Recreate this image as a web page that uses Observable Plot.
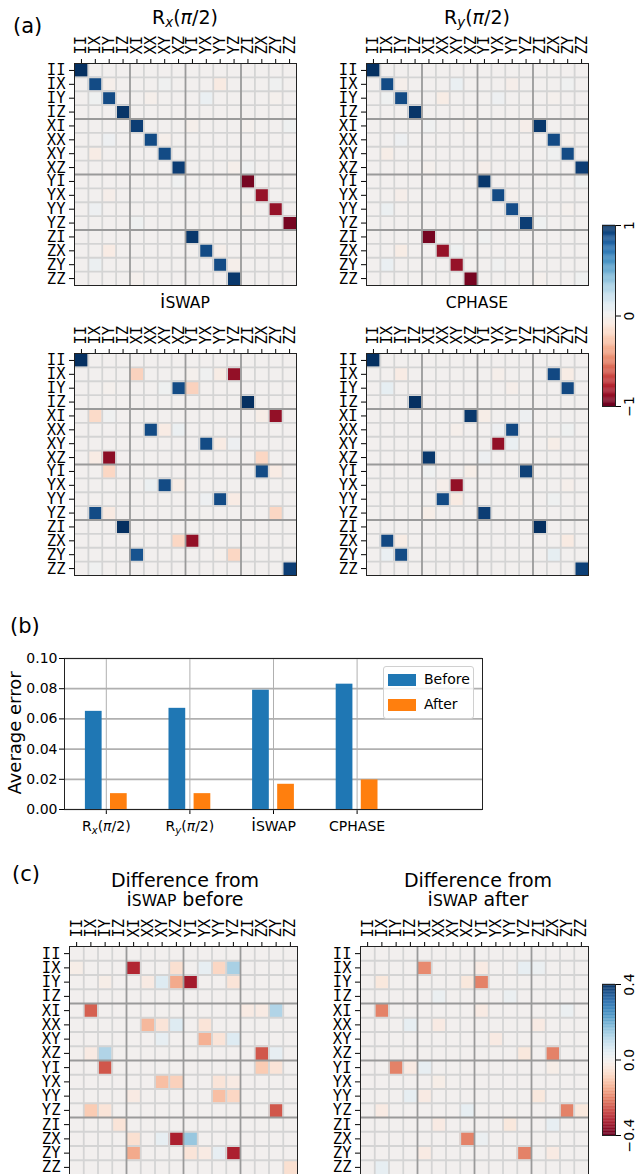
<!DOCTYPE html>
<html><head><meta charset="utf-8">
<script src="https://cdn.jsdelivr.net/npm/d3@7"></script>
<script src="https://cdn.jsdelivr.net/npm/@observablehq/plot@0.6"></script>
<style>
body{margin:0;background:#fff;}
#page{position:relative;width:637px;height:1174px;overflow:hidden;font-family:"DejaVu Sans",sans-serif;color:#000;background:#fff;}
.lbl{position:absolute;white-space:nowrap;line-height:1;}
.ttl{position:absolute;white-space:nowrap;line-height:1;font-size:19px;text-align:center;width:300px;}
.sc{font-size:0.82em;}
sub{font-size:0.7em;vertical-align:-0.25em;line-height:0;}
</style></head><body><div id="page"></div>
<script>
// ---------- data ----------
const paulis = ["II","IX","IY","IZ","XI","XX","XY","XZ","YI","YX","YY","YZ","ZI","ZX","ZY","ZZ"];

const rxEntries = [
 ["II","II",1.0],
 ["IX","IX",0.9],["IX","IY",-0.03],["IX","XY",0.02],["IX","YY",-0.08],["IX","ZY",0.02],
 ["IY","IY",0.9],["IY","IX",0.03],["IY","XX",-0.03],["IY","YX",0.06],["IY","ZY",-0.02],
 ["IZ","IZ",0.98],
 ["XI","XI",0.95],["XI","YI",-0.03],["XI","ZZ",0.03],["XI","ZI",-0.02],
 ["XX","XX",0.9],["XX","IY",0.04],["XX","XY",-0.03],
 ["XY","XY",0.9],["XY","IX",-0.06],
 ["XZ","XZ",0.95],["XZ","YZ",-0.03],["XZ","ZI",0.02],
 ["YI","ZI",-0.96],["YI","XZ",0.02],
 ["YX","ZX",-0.87],["YX","IY",-0.04],
 ["YY","ZY",-0.87],["YY","IX",0.04],["YY","ZI",-0.02],
 ["YZ","ZZ",-0.96],["YZ","XI",0.03],
 ["ZI","YI",0.97],
 ["ZX","YX",0.9],["ZX","IY",-0.07],["ZX","YY",-0.03],
 ["ZY","YY",0.9],["ZY","IX",0.05],["ZY","YZ",-0.03],
 ["ZZ","YZ",0.97],["ZZ","XI",-0.02]
];
const ryEntries = [
 ["II","II",1.0],
 ["IX","IX",0.9],["IX","IY",-0.03],["IX","XY",0.06],["IX","YY",-0.04],["IX","ZY",0.02],
 ["IY","IY",0.9],["IY","IX",0.03],["IY","XX",-0.06],["IY","YX",0.04],["IY","ZX",-0.02],
 ["IZ","IZ",0.98],
 ["XI","ZI",0.97],["XI","YZ",-0.04],["XI","XI",0.02],["XI","XZ",-0.02],
 ["XX","ZX",0.9],["XX","IY",0.04],["XX","ZY",-0.02],
 ["XY","ZY",0.9],["XY","IX",-0.05],["XY","ZX",0.02],
 ["XZ","ZZ",0.95],["XZ","YI",-0.04],["XZ","XI",-0.02],
 ["YI","YI",0.97],["YI","ZZ",0.02],
 ["YX","YX",0.9],["YX","IY",-0.04],["YX","YY",-0.02],
 ["YY","YY",0.89],["YY","IX",0.05],["YY","ZY",-0.02],
 ["YZ","YZ",0.95],["YZ","ZI",0.03],
 ["ZI","XI",-0.96],["ZI","YI",0.02],
 ["ZX","XX",-0.87],["ZX","IY",-0.06],["ZX","XY",0.03],
 ["ZY","XY",-0.87],["ZY","IX",0.06],["ZY","YX",0.02],
 ["ZZ","XZ",-0.96],["ZZ","ZI",-0.02],["ZZ","ZZ",0.02]
];
const iswapEntries = [
 ["II","II",1.0],
 ["IX","XI",-0.22],["IX","YZ",-0.88],["IX","YY",-0.06],["IX","YX",0.02],["IX","YI",-0.02],
 ["IY","XZ",0.9],["IY","YI",-0.22],["IY","XY",0.03],["IY","IY",-0.02],
 ["IZ","ZI",1.0],
 ["XI","IX",-0.18],["XI","ZY",-0.88],["XI","ZX",-0.05],["XI","IY",0.02],
 ["XX","XX",0.9],["XX","XY",-0.07],["XX","XZ",0.05],
 ["XY","YX",0.9],["XY","YY",-0.07],["XY","YZ",0.04],
 ["XZ","IY",-0.9],["XZ","IX",-0.07],["XZ","ZX",-0.2],
 ["YI","IY",-0.2],["YI","ZX",0.9],["YI","ZY",-0.07],
 ["YX","XY",0.9],["YX","XZ",-0.06],["YX","XX",0.05],
 ["YY","YY",0.9],["YY","YZ",-0.07],["YY","YX",0.04],
 ["YZ","IX",0.9],["YZ","IY",-0.08],["YZ","ZY",-0.2],
 ["ZI","IZ",1.0],
 ["ZX","XZ",-0.2],["ZX","YI",-0.88],
 ["ZY","XI",0.87],["ZY","YZ",-0.2],["ZY","YY",-0.02],
 ["ZZ","ZZ",0.95],["ZZ","IX",0.02]
];
const cphaseEntries = [
 ["II","II",1.0],
 ["IX","ZX",0.91],["IX","IY",-0.07],["IX","ZY",-0.06],["IX","YX",-0.03],
 ["IY","ZY",0.91],["IY","IX",0.08],["IY","YY",-0.04],
 ["IZ","IZ",1.0],
 ["XI","XZ",0.97],["XI","YI",-0.05],["XI","YZ",0.04],
 ["XX","YY",0.91],["XX","YX",0.04],["XX","XY",-0.03],["XX","ZY",0.03],
 ["XY","YX",-0.88],["XY","YY",0.06],["XY","ZX",-0.05],
 ["XZ","XI",0.97],["XZ","YI",0.04],
 ["YI","YZ",0.94],["YI","XZ",-0.05],["YI","XI",0.03],
 ["YX","XY",-0.88],["YX","XX",-0.04],["YX","ZY",-0.03],
 ["YY","XX",0.9],["YY","XY",-0.08],["YY","ZX",0.03],
 ["YZ","YI",0.95],["YZ","XI",-0.05],
 ["ZI","ZI",1.0],
 ["ZX","IX",0.91],["ZX","IY",-0.06],["ZX","ZY",-0.08],
 ["ZY","IY",0.9],["ZY","IX",0.06],["ZY","ZX",0.08],
 ["ZZ","ZZ",0.94]
];
const diffBeforeEntries = [
 ["IX","XI",-0.31],["IX","XZ",-0.06],["IX","YY",-0.08],["IX","YZ",0.13],["IX","YX",0.03],["IX","II",-0.02],
 ["IY","YI",-0.33],["IY","XZ",-0.15],["IY","XY",0.05],["IY","XX",-0.03],["IY","YZ",-0.05],["IY","IY",-0.02],
 ["XI","IX",-0.24],["XI","ZY",0.12],["XI","ZI",-0.03],["XI","ZX",-0.03],
 ["XX","XX",-0.13],["XX","XY",-0.05],["XX","XZ",0.05],["XX","YX",-0.05],
 ["XY","YX",-0.14],["XY","YY",-0.05],["XY","YZ",0.05],["XY","XY",0.03],
 ["XZ","IY",0.12],["XZ","IX",-0.03],["XZ","ZX",-0.25],["XZ","ZY",0.03],
 ["YI","IY",-0.25],["YI","ZX",-0.1],["YI","ZY",-0.05],
 ["YX","XY",-0.12],["YX","XZ",-0.09],["YX","YY",-0.05],["YX","YZ",-0.03],
 ["YY","YY",-0.12],["YY","YZ",-0.08],["YY","XI",-0.03],
 ["YZ","IX",-0.1],["YZ","IY",-0.05],["YZ","ZY",-0.25],
 ["ZI","IZ",-0.05],
 ["ZX","XZ",-0.32],["ZX","YI",0.15],["ZX","XI",-0.06],["ZX","XY",0.03],
 ["ZY","XI",-0.15],["ZY","YZ",-0.32],["ZY","YI",-0.05],["ZY","YX",-0.03],["ZY","YY",0.03],
 ["ZZ","ZZ",-0.06]
];
const diffAfterEntries = [
 ["IX","XI",-0.19],["IX","YI",-0.03],["IX","YZ",0.03],["IX","ZI",0.02],
 ["IY","YI",-0.2],["IY","XZ",-0.04],["IY","IX",-0.04],
 ["IZ","XX",0.02],["IZ","YY",0.02],
 ["XI","IX",-0.2],["XI","YI",-0.03],["XI","ZY",0.02],
 ["XX","XX",-0.03],["XX","IZ",0.03],["XX","ZI",-0.03],
 ["XY","YX",-0.03],
 ["XZ","ZX",-0.2],["XZ","YZ",-0.04],
 ["YI","IY",-0.2],["YI","IZ",-0.03],["YI","XI",0.03],["YI","ZX",-0.02],
 ["YX","XX",-0.02],
 ["YY","XI",-0.03],["YY","ZI",-0.04],["YY","IZ",0.03],
 ["YZ","ZY",-0.2],["YZ","ZZ",-0.04],["YZ","IX",-0.03],["YZ","XZ",0.03],
 ["ZI","XX",-0.03],["ZI","YY",-0.04],["ZI","ZX",0.03],
 ["ZX","XZ",-0.2],["ZX","YI",0.02],
 ["ZY","YZ",-0.2],["ZY","XI",-0.03],["ZY","ZX",-0.03],
 ["ZZ","IX",0.03]
];

const gates = ["Rx(π/2)","Ry(π/2)","iSWAP","CPHASE"];
const errorBefore = [0.065, 0.067, 0.079, 0.083];
const errorAfter = [0.0105, 0.0105, 0.0167, 0.0196];
const errorTicks = [0, 0.02, 0.04, 0.06, 0.08, 0.10];
const cbTicksA = [-1, 0, 1];
const cbTicksC = [-0.4, 0, 0.4];

// ---------- helpers ----------
const page = document.getElementById("page");
const svgStyle = (l, t, extra = {}) => Object.assign({position:"absolute", left:l+"px", top:t+"px", background:"transparent", overflow:"visible"}, extra);

function grid(entries) {
  const m = new Map(entries.map(([r, c, v]) => [r + "|" + c, v]));
  return paulis.flatMap((r, i) => paulis.map((c, j) => ({r: i, c: j, v: m.get(r + "|" + c) ?? 0})));
}

function heatmap(entries, vmax, o) {
  const data = grid(entries);
  const idx = d3.range(paulis.length);
  const minor = idx.slice(1).filter(i => i % 4);
  const major = [4, 8, 12];
  const p = Plot.plot({
    width: o.w, height: o.h,
    marginLeft: o.px - o.sx, marginTop: o.py - o.sy,
    marginRight: o.w - (o.px - o.sx) - o.size, marginBottom: o.h - (o.py - o.sy) - o.size,
    style: svgStyle(o.sx, o.sy, {fontFamily: "'DejaVu Sans Mono', monospace", fontSize: "15.5px", color: "#000"}),
    x: {domain: [0, 16], axis: "top", ticks: idx.map(i => i + 0.5), tickFormat: d => paulis[Math.floor(d)], tickRotate: -90, tickSize: 5, tickPadding: 4, label: null},
    y: {domain: [0, 16], reverse: true, ticks: idx.map(i => i + 0.5), tickFormat: d => paulis[Math.floor(d)], tickSize: 5, tickPadding: 4, label: null},
    color: {type: "linear", scheme: "rdbu", domain: [-vmax, vmax]},
    marks: [
      Plot.rect(data, {x1: "c", x2: d => d.c + 1, y1: "r", y2: d => d.r + 1, fill: "v"}),
      Plot.ruleX(minor, {stroke: "#d4d4d4", strokeWidth: 1.8}),
      Plot.ruleY(minor, {stroke: "#d4d4d4", strokeWidth: 1.8}),
      Plot.ruleX(major, {stroke: "#9a9a9a", strokeWidth: 1.8}),
      Plot.ruleY(major, {stroke: "#9a9a9a", strokeWidth: 1.8}),
      Plot.frame({stroke: "#222", strokeWidth: 1})
    ]
  });
  page.appendChild(p);
}

function colorbar(vmax, ticks, fmt, o) {
  const n = 200, step = 2 * vmax / n;
  const steps = d3.range(n).map(i => -vmax + i * step);
  const p = Plot.plot({
    width: o.w, height: o.h,
    marginLeft: o.px - o.sx, marginRight: o.w - (o.px - o.sx) - o.bw,
    marginTop: o.py - o.sy, marginBottom: o.h - (o.py - o.sy) - o.bh,
    style: svgStyle(o.sx, o.sy, {fontFamily: "'DejaVu Sans', sans-serif", fontSize: "14px", color: "#000"}),
    x: {domain: [0, 1], axis: null},
    y: {domain: [-vmax, vmax], axis: "right", ticks, tickFormat: () => "", tickSize: 5, label: null},
    color: {type: "linear", scheme: "rdbu", domain: [-vmax, vmax]},
    marks: [
      Plot.rect(steps, {x1: () => 0, x2: () => 1, y1: d => d, y2: d => d + step * 1.3, fill: d => d + step / 2}),
      Plot.frame({stroke: "#222", strokeWidth: 1}),
      Plot.text(ticks, {x: () => 1, y: d => d, text: fmt, rotate: -90, dx: 14, textAnchor: "middle", fill: "#000"})
    ]
  });
  page.appendChild(p);
}

function addLabel(html, left, top, size, extraStyle = "") {
  const d = document.createElement("div");
  d.className = "lbl";
  d.style.cssText = `left:${left}px;top:${top}px;font-size:${size}px;${extraStyle}`;
  d.innerHTML = html;
  page.appendChild(d);
  return d;
}
function addTitle(html, cx, top) {
  const d = document.createElement("div");
  d.className = "ttl";
  d.style.left = (cx - 150) + "px";
  d.style.top = top + "px";
  d.innerHTML = html;
  page.appendChild(d);
}

const gateHtml = {
  "Rx(π/2)": "R<sub><i>x</i></sub>(<i>π</i>/2)",
  "Ry(π/2)": "R<sub><i>y</i></sub>(<i>π</i>/2)",
  "iSWAP": "i<span class='sc'>SWAP</span>",
  "CPHASE": "<span class='sc'>CPHASE</span>"
};
const gateSvg = {
  "Rx(π/2)": "R<tspan dy='3' font-size='10' font-style='italic'>x</tspan><tspan dy='-3'>(</tspan><tspan font-style='italic'>π</tspan>/2)",
  "Ry(π/2)": "R<tspan dy='3' font-size='10' font-style='italic'>y</tspan><tspan dy='-3'>(</tspan><tspan font-style='italic'>π</tspan>/2)",
  "iSWAP": "<tspan font-size='17'>i</tspan>SWAP",
  "CPHASE": "CPHASE"
};

// ---------- panel (a) ----------
addLabel("(a)", 13, 16, 21);
addTitle(gateHtml[gates[0]], 185, 8);
addTitle(gateHtml[gates[1]], 477, 8);
addTitle(gateHtml[gates[2]], 185, 292);
addTitle(gateHtml[gates[3]], 477, 292);

heatmap(rxEntries, 1, {sx: 0, sy: 20, w: 305, h: 275, px: 74, py: 63, size: 222});
heatmap(ryEntries, 1, {sx: 305, sy: 20, w: 290, h: 275, px: 366, py: 63, size: 222});
heatmap(iswapEntries, 1, {sx: 0, sy: 310, w: 305, h: 275, px: 74, py: 353, size: 222});
heatmap(cphaseEntries, 1, {sx: 305, sy: 310, w: 290, h: 275, px: 366, py: 353, size: 222});
colorbar(1, cbTicksA, d => d < 0 ? "\u2212" + Math.abs(d) : String(d), {sx: 595, sy: 215, w: 42, h: 200, px: 602, py: 225, bw: 13, bh: 181});

// ---------- panel (b) ----------
addLabel("(b)", 10, 616, 21);
const barsBefore = gates.map((g, i) => ({i, v: errorBefore[i]}));
const barsAfter = gates.map((g, i) => ({i, v: errorAfter[i]}));
const bar = Plot.plot({
  width: 500, height: 200, marginLeft: 64, marginRight: 18, marginTop: 13, marginBottom: 36,
  style: svgStyle(0, 645, {fontFamily: "'DejaVu Sans', sans-serif", fontSize: "14px", color: "#000"}),
  x: {domain: [-0.5, 4.5], ticks: gates.map((g, i) => i), tickFormat: i => gates[i], tickSize: 5, tickPadding: 7, label: null},
  y: {domain: [0, 0.1], ticks: errorTicks, tickFormat: d => d.toFixed(2), tickSize: 5, tickPadding: 2, label: null},
  marks: [
    Plot.ruleY(errorTicks, {stroke: "#b0b0b0", strokeWidth: 1.7}),
    Plot.ruleX(gates.map((g, i) => i), {stroke: "#b0b0b0", strokeWidth: 1}),
    Plot.rectY(barsBefore, {x1: d => d.i - 0.25, x2: d => d.i - 0.05, y: "v", fill: "#1f77b4"}),
    Plot.rectY(barsAfter, {x1: d => d.i + 0.05, x2: d => d.i + 0.25, y: "v", fill: "#ff7f0e"}),
    Plot.frame({stroke: "#222", strokeWidth: 1})
  ]
});
bar.querySelectorAll("text").forEach(t => {
  const s = t.textContent.trim();
  if (gateSvg[s]) t.innerHTML = gateSvg[s];
});
page.appendChild(bar);
addLabel("Average error", -51, 724, 18, "width:132px;text-align:center;transform:rotate(-90deg);");
// legend
const leg = document.createElement("div");
leg.style.cssText = "position:absolute;left:383px;top:666px;width:91px;height:53px;border:1px solid #d0d0d0;border-radius:3px;background:rgba(255,255,255,0.8);box-sizing:border-box;";
page.appendChild(leg);
addLabel("", 388, 674, 14, "width:28px;height:12px;background:#1f77b4;");
addLabel("Before", 424, 672, 14);
addLabel("", 388, 699, 14, "width:28px;height:12px;background:#ff7f0e;");
addLabel("After", 424, 697, 14);

// ---------- panel (c) ----------
addLabel("(c)", 12, 864, 21);
addTitle("Difference from", 185, 871);
addTitle("i<span class='sc'>SWAP</span> before", 185, 890);
addTitle("Difference from", 478, 871);
addTitle("i<span class='sc'>SWAP</span> after", 478, 890);
heatmap(diffBeforeEntries, 0.4, {sx: 0, sy: 905, w: 305, h: 280, px: 69, py: 946, size: 228});
heatmap(diffAfterEntries, 0.4, {sx: 305, sy: 905, w: 290, h: 280, px: 360, py: 946, size: 228});
colorbar(0.4, cbTicksC, d => d < 0 ? "\u2212" + Math.abs(d).toFixed(1) : d.toFixed(1), {sx: 595, sy: 974, w: 42, h: 171, px: 602, py: 984, bw: 13, bh: 151});
</script>
</body></html>
